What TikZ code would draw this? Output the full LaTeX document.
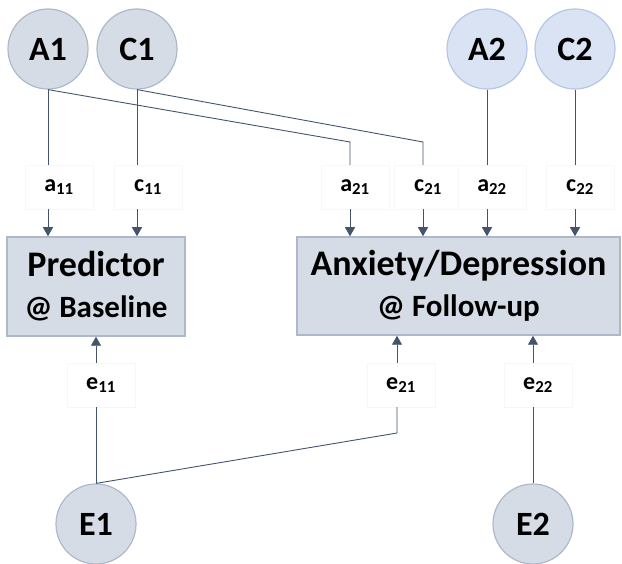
\documentclass[tikz,border=0pt]{standalone}
\usepackage{fontspec}
\setmainfont{Carlito}
\usetikzlibrary{arrows.meta}
\definecolor{lnc}{HTML}{44546A}
\definecolor{gfill}{HTML}{D6DCE5}
\definecolor{gbord}{HTML}{ADB9CA}
\definecolor{bfill}{HTML}{DAE3F3}
\definecolor{bbord}{HTML}{B4C7E7}
\newcommand{\plab}[2]{\raisebox{-4pt}{#1\textsubscript{#2}}}
\begin{document}
\begin{tikzpicture}[x=1pt,y=-1pt,
  latent/.style={circle,fill=gfill,draw=gbord,line width=1.2pt,minimum size=80pt,inner sep=0pt,font=\fontsize{34}{34}\selectfont\bfseries},
  latentb/.style={latent,fill=bfill,draw=bbord},
  obsbox/.style={rectangle,fill=gfill,draw=gbord,line width=1.5pt,inner sep=0pt,align=center,font=\fontsize{31}{41}\selectfont\bfseries},
  pathlbl/.style={rectangle,fill=white,draw=black!3,line width=0.4pt,minimum width=68pt,minimum height=44pt,inner sep=0pt,font=\fontsize{24}{24}\selectfont\bfseries},
  conn/.style={draw=lnc,line width=0.9pt},
  arr/.style={conn,-{Triangle[width=10pt,length=9pt]}}
]
\useasboundingbox (0,0) rectangle (622,564);
% latent variables
\node[latent]  (A1) at (48,49)  {A1};
\node[latent]  (C1) at (137,49) {C1};
\node[latentb] (A2) at (487,49) {A2};
\node[latentb] (C2) at (575,49) {C2};
\node[latent]  (E1) at (96,524) {E1};
\node[latent]  (E2) at (533,524) {E2};
% observed boxes
\node[obsbox,minimum width=178pt,minimum height=99pt] (P) at (96,286.5)
  {{\fontsize{36}{41}\selectfont Predictor}\\@ Baseline};
\node[obsbox,minimum width=323pt,minimum height=98pt] (AD) at (458.5,286)
  {{\fontsize{36}{41}\selectfont Anxiety/Depression}\\@ Follow-up};
% bend points
\coordinate (ka21) at (350,142);
\coordinate (kc21) at (423,142);
\coordinate (ke21) at (397,433);
% path labels (top)
\node[pathlbl] (la11) at (59,187)  {\plab{a}{11}};
\node[pathlbl] (lc11) at (148,187) {\plab{c}{11}};
\node[pathlbl] (la21) at (355,187) {\plab{a}{21}};
\node[pathlbl] (lc21) at (428,187) {\plab{c}{21}};
\node[pathlbl] (la22) at (492,187) {\plab{a}{22}};
\node[pathlbl] (lc22) at (580,187) {\plab{c}{22}};
% path labels (bottom)
\node[pathlbl] (le11) at (101,385) {\plab{e}{11}};
\node[pathlbl] (le21) at (401,385) {\plab{e}{21}};
\node[pathlbl] (le22) at (538,385) {\plab{e}{22}};
% top connectors
\draw[conn] (A1.south) -- (A1.south |- la11.north);
\draw[arr]  (A1.south |- la11.south) -- (A1.south |- P.north);
\draw[conn] (C1.south) -- (C1.south |- lc11.north);
\draw[arr]  (C1.south |- lc11.south) -- (C1.south |- P.north);
\draw[conn] (A1.south) -- (ka21) -- (ka21 |- la21.north);
\draw[arr]  (ka21 |- la21.south) -- (ka21 |- AD.north);
\draw[conn] (C1.south) -- (kc21) -- (kc21 |- lc21.north);
\draw[arr]  (kc21 |- lc21.south) -- (kc21 |- AD.north);
\draw[conn] (A2.south) -- (A2.south |- la22.north);
\draw[arr]  (A2.south |- la22.south) -- (A2.south |- AD.north);
\draw[conn] (C2.south) -- (C2.south |- lc22.north);
\draw[arr]  (C2.south |- lc22.south) -- (C2.south |- AD.north);
% bottom connectors
\draw[conn] (E1.north) -- (E1.north |- le11.south);
\draw[arr]  (E1.north |- le11.north) -- (E1.north |- P.south);
\draw[conn] (E1.north) -- (ke21) -- (ke21 |- le21.south);
\draw[arr]  (ke21 |- le21.north) -- (ke21 |- AD.south);
\draw[conn] (E2.north) -- (E2.north |- le22.south);
\draw[arr]  (E2.north |- le22.north) -- (E2.north |- AD.south);
\end{tikzpicture}
\end{document}
